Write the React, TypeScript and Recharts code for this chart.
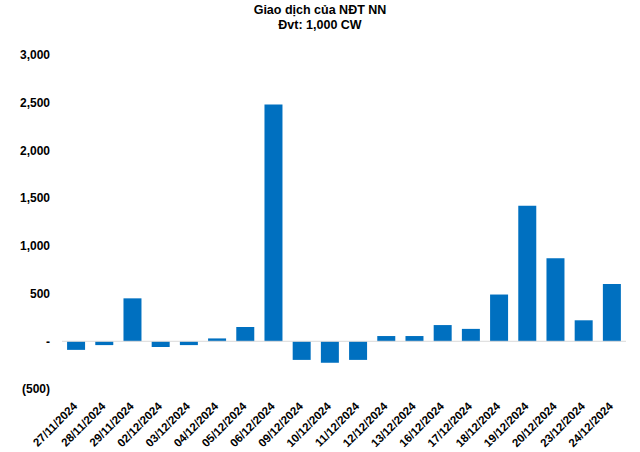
import { BarChart, Bar, XAxis, YAxis, ReferenceLine } from 'recharts'

const dates = [
  '27/11/2024', '28/11/2024', '29/11/2024', '02/12/2024', '03/12/2024',
  '04/12/2024', '05/12/2024', '06/12/2024', '09/12/2024', '10/12/2024',
  '11/12/2024', '12/12/2024', '13/12/2024', '16/12/2024', '17/12/2024',
  '18/12/2024', '19/12/2024', '20/12/2024', '23/12/2024', '24/12/2024',
]
const netValues = [
  -90, -40, 450, -60, -40, 30, 150, 2480, -195, -225,
  -195, 55, 55, 170, 130, 490, 1420, 870, 220, 600,
]
const yTicks = [-500, 0, 500, 1000, 1500, 2000, 2500, 3000]

const FONT = '"Liberation Sans", Arial, sans-serif'

function fmt(v: number) {
  if (v === 0) return '-'
  const s = Math.abs(v).toLocaleString('en-US')
  return v < 0 ? `(${s})` : s
}

function DateTick({ x, y, payload }: any) {
  const ax = x + 2
  const ay = y + 10
  return (
    <text
      x={ax}
      y={ay}
      transform={`rotate(-45, ${ax}, ${ay})`}
      textAnchor="end"
      fontFamily={FONT}
      fontSize={11.5}
      fontWeight="bold"
      fill="#000"
    >
      {payload.value}
    </text>
  )
}

export default function App() {
  const data = dates.map((d, i) => ({ date: d, value: netValues[i] }))
  return (
    <div style={{ position: 'absolute', left: 0, top: 0, width: 640, height: 452, background: '#fff' }}>
      <div
        style={{
          position: 'absolute', left: 0, top: 3, width: 640, textAlign: 'center',
          fontFamily: FONT, fontSize: 12.5, fontWeight: 'bold', lineHeight: '15px',
        }}
      >
        Giao dịch của NĐT NN
        <br />
        Đvt: 1,000 CW
      </div>
      <BarChart
        width={640}
        height={452}
        data={data}
        margin={{ top: 55, right: 14, bottom: 0, left: 0 }}
        barCategoryGap="18%"
      >
        <XAxis
          dataKey="date"
          axisLine={false}
          tickLine={false}
          interval={0}
          height={63}
          tick={<DateTick />}
        />
        <YAxis
          width={62}
          domain={[-500, 3000]}
          ticks={yTicks}
          axisLine={false}
          tickLine={false}
          tickFormatter={fmt}
          tick={{ fontFamily: FONT, fontSize: 12, fontWeight: 'bold', fill: '#000' }}
          tickMargin={6}
        />
        <ReferenceLine y={0} stroke="#d9d9d9" strokeWidth={1} />
        <Bar dataKey="value" fill="#0070C0" isAnimationActive={false} />
      </BarChart>
    </div>
  )
}
